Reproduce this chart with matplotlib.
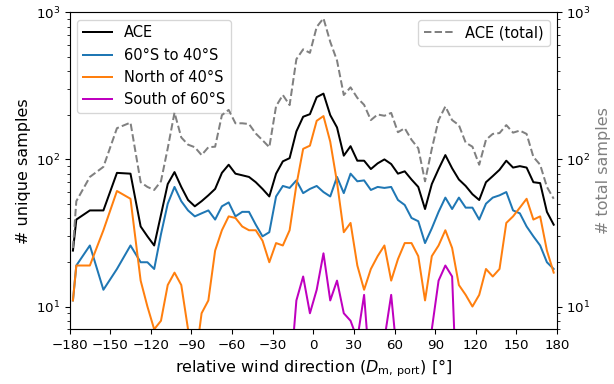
import numpy as np
import matplotlib
matplotlib.use("Agg")
from matplotlib import pyplot as plt

# bin centres of the relative wind direction (deg)
direction = np.r_[-177.5, -175, -165, -155, -145, -135, np.arange(-127.5, 180, 5)]

# unique samples per bin
ace = [24, 39, 45, 45, 81, 80, 35, 30, 26, 42, 68, 82, 65, 53, 48, 52, 57, 63,
       81, 92, 80, 78, 76, 70, 63, 56, 80, 97, 102, 155, 195, 203, 265, 280,
       200, 165, 106, 123, 98, 98, 86, 94, 100, 93, 80, 83, 73, 65, 46, 68,
       86, 107, 87, 73, 66, 58, 53, 70, 77, 85, 98, 88, 90, 88, 70, 69, 44, 36]
mid_lat = [11, 19, 26, 13, 18, 26, 20, 20, 18, 31, 50, 65, 52, 45, 41, 43, 45,
           39, 48, 51, 41, 44, 44, 36, 30, 32, 56, 66, 64, 72, 59, 63, 66, 60,
           56, 76, 59, 80, 71, 72, 62, 65, 64, 65, 53, 49, 40, 38, 27, 34, 44,
           55, 46, 55, 47, 47, 39, 50, 55, 57, 60, 45, 43, 35, 30, 26, 20, 18]
north = [11, 19, 19, 33, 61, 54, 15, 10, 7, 8, 14, 17, 14, 7, 4, 9, 11, 24,
         33, 41, 40, 35, 33, 33, 28, 20, 27, 26, 33, 67, 118, 124, 183, 197,
         132, 70, 32, 37, 19, 13, 18, 22, 26, 15, 21, 27, 27, 22, 11, 22, 26,
         33, 25, 14, 12, 10, 12, 18, 16, 18, 37, 41, 47, 54, 39, 41, 24, 17]
south = [0, 0, 0, 0, 0, 0, 0, 0, 0, 0, 0, 0, 0, 0, 0, 0, 0, 0,
         0, 0, 0, 0, 0, 0, 0, 0, 0, 0, 3, 11, 16, 9, 13, 23,
         11, 15, 9, 8, 6, 12, 3, 0, 6, 12, 4, 0, 0, 0, 0, 7, 15,
         19, 16, 1, 0, 0, 0, 0, 0, 0, 0, 0, 0, 0, 0, 0, 0, 0]

# total samples per bin
ace_total = [25, 52, 76, 89, 163, 178, 70, 65, 62, 71, 119, 208, 141, 126, 121,
             107, 121, 122, 200, 217, 176, 176, 174, 150, 135, 121, 230, 274,
             234, 480, 560, 530, 795, 910, 630, 470, 274, 309, 262, 235, 185,
             202, 198, 207, 153, 163, 136, 119, 71, 118, 185, 229, 185, 171,
             130, 122, 92, 136, 149, 151, 171, 152, 157, 149, 104, 92, 65, 54]

fig, ax = plt.subplots(figsize=(6.4, 4), dpi=96)
fig.subplots_adjust(left=0.1132, right=0.9067, top=0.968, bottom=0.1424)

ax.plot(direction, ace, color='k', lw=1.5, label='ACE')
ax.plot(direction, mid_lat, color='C0', lw=1.5, label='60°S to 40°S')
ax.plot(direction, north, color='C1', lw=1.5, label='North of 40°S')
ax.plot(direction, south, color='m', lw=1.5, label='South of 60°S')
ax.set_yscale('log')
ax.set_ylim(7, 1000)
ax.set_xlim(-180, 180)
ax.set_xticks(np.arange(-180, 181, 30))
ax.set_xlabel(r'relative wind direction ($D_\mathrm{m,\,port}$) [°]', fontsize=12)
ax.set_ylabel('# unique samples', fontsize=12)
ax.legend(loc='upper left', fontsize=11)

ax2 = ax.twinx()
ax2.plot(direction, ace_total, color='gray', ls='--', lw=1.5, label='ACE (total)')
ax2.set_yscale('log')
ax2.set_ylim(7, 1000)
ax2.set_ylabel('# total samples', fontsize=12, color='gray')
ax2.legend(loc='upper right', fontsize=11)

fig.savefig('out.png', dpi=96)
